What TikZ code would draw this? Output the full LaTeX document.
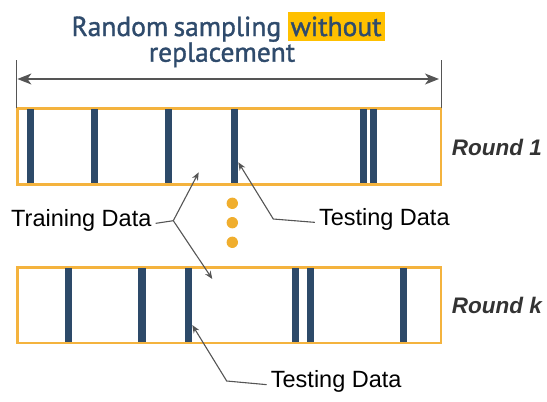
\documentclass[tikz,border=0pt]{standalone}
\usepackage{fontspec}
\setmainfont{Liberation Sans}
\newfontfamily\titlefont[FakeBold=1.3]{PT Sans}
\usetikzlibrary{arrows.meta,positioning}
\definecolor{navy}{HTML}{2D4A69}
\definecolor{titleblue}{HTML}{2F4B6C}
\definecolor{boxorange}{HTML}{F4B33E}
\definecolor{dotorange}{HTML}{F0AE2E}
\definecolor{hilite}{HTML}{FFC000}
\definecolor{pointgray}{HTML}{555555}
\definecolor{roundgray}{HTML}{333333}

\tikzset{
  frame/.style={draw=boxorange,line width=1.8pt,inner sep=0pt,minimum width=423pt,minimum height=75pt},
  titletxt/.style={font=\titlefont\fontsize{27.5}{30}\selectfont,text=titleblue,inner sep=0pt},
  lbl/.style={font=\fontsize{23.5}{26}\selectfont,inner xsep=4pt,inner ysep=0pt},
  roundlbl/.style={font=\fontsize{22.5}{26}\selectfont\bfseries\itshape,text=roundgray,inner sep=0pt},
  pointer/.style={draw=pointgray,line width=1.1pt,-{Stealth[length=8pt,width=6.5pt]}},
  dimarrow/.style={draw=pointgray,line width=1.3pt,{Stealth[length=14pt,width=11pt,inset=4pt]}-{Stealth[length=14pt,width=11pt,inset=4pt]}},
}

\begin{document}
\begin{tikzpicture}[x=1pt,y=-1pt]
    \useasboundingbox (0,0) rectangle (547,402);
    % title
    \node[titletxt,anchor=base west] (ttlA) at (71.4,36) {Random\hspace{-2pt} sampling};
    \node[titletxt,fill=hilite,anchor=base west,inner xsep=3pt,text height=24pt,text depth=4.7pt] (ttlB) at (287.5,36) {without};
    \node[titletxt,anchor=base] (ttlC) at (222,61.7) {replacement};
    % the two rounds
    \node[frame,anchor=north west] (round1) at (16.7,108.3) {};
    \node[frame,anchor=north west] (roundk) at (16.7,266.7) {};
    \foreach \bx in {30.3,94.4,168.1,234.5,363.1,373.7}
        \fill[navy] (\bx-3.6,108.3) rectangle (\bx+3.6,183.3);
    \foreach \bx in {68.3,142,188.3,295.3,310.6,403.3}
        \fill[navy] (\bx-3.6,266.7) rectangle (\bx+3.6,341.7);
    \draw[boxorange,line width=1.8pt] (round1.north west) rectangle (round1.south east);
    \draw[boxorange,line width=1.8pt] (roundk.north west) rectangle (roundk.south east);
    \node[roundlbl,anchor=base west] (lblr1) at (451.7,155) {Round 1};
    \node[roundlbl,anchor=base west] (lblrk) at (451.7,313.5) {Round k};
    % span arrow
    \draw[pointgray,line width=1.5pt] (round1.north west) -- ++(0,-48) coordinate (tickL);
    \draw[pointgray,line width=1.5pt] (round1.north east) -- ++(0,-48) coordinate (tickR);
    \coordinate (spanL) at (17.4,79);
    \coordinate (spanR) at (439,79);
    \draw[dimarrow] (spanL) -- (spanR);
    % dots
    \foreach \dy in {203.3,222.7,242.3}
        \fill[dotorange] (232.3,\dy) circle (5.7pt);
    % training data pointers
    \node[lbl,anchor=base west] (train) at (7,226) {Training Data};
    \coordinate (trainfork) at (173.3,220.7);
    \coordinate (trainup) at (198.7,172.3);
    \coordinate (traindown) at (212.3,279);
    \draw[pointgray,line width=1.1pt] (train.mid east) -- (trainfork);
    \draw[pointer] (trainfork) -- (trainup);
    \draw[pointer] (trainfork) -- (traindown);
    % testing data pointers
    \node[lbl,anchor=base west] (test1) at (314.8,225) {Testing Data};
    \coordinate (test1elbow) at (273.3,219);
    \coordinate (test1tip) at (238.3,162.3);
    \draw[pointer] (test1.mid west) -- (test1elbow) -- (test1tip);
    \node[lbl,anchor=base west] (testk) at (266.7,387.3) {Testing Data};
    \coordinate (testkelbow) at (226.7,381);
    \coordinate (testktip) at (192.3,325);
    \draw[pointer] (testk.mid west) -- (testkelbow) -- (testktip);
\end{tikzpicture}
\end{document}
